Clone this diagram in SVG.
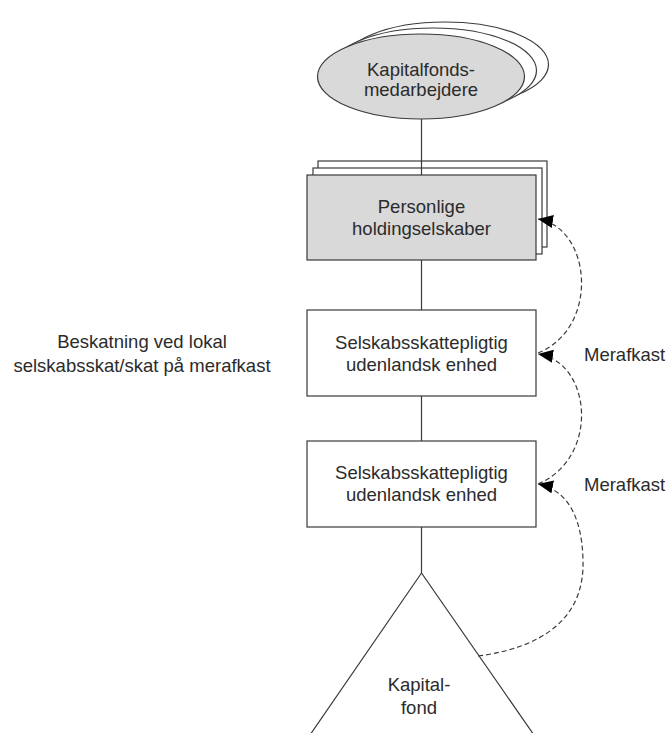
<svg xmlns="http://www.w3.org/2000/svg" width="666" height="733" viewBox="0 0 666 733">
<style>
  text { font-family: "Liberation Sans", Arial, sans-serif; font-size: 18.5px; fill: #2b2b2b; }
  .c { text-anchor: middle; }
  .shape { stroke: #3a3a3a; stroke-width: 1.2; }
  .grey { fill: #d9d9d9; }
  .white { fill: #ffffff; }
  .link { fill: none; stroke: #3a3a3a; stroke-width: 1.2; }
  .flow { fill: none; stroke: #3a3a3a; stroke-width: 1.2; stroke-dasharray: 5 3; marker-end: url(#arrow); }
</style>
<defs>
  <marker id="arrow" markerUnits="userSpaceOnUse" markerWidth="16" markerHeight="14" refX="15" refY="6.5" orient="auto">
    <path d="M0,0 L15,6.5 L0,13 z" fill="#000"/>
  </marker>
</defs>
<rect width="666" height="733" fill="#ffffff"/>

<g id="node-medarbejdere">
  <ellipse class="shape white" cx="445" cy="64.5" rx="103.5" ry="42.5"/>
  <ellipse class="shape white" cx="433" cy="70.5" rx="103.5" ry="42.5"/>
  <ellipse class="shape grey" cx="421" cy="76.5" rx="103.5" ry="42.5"/>
  <text class="c" x="421" y="76">Kapitalfonds-</text>
  <text class="c" x="421" y="95.5">medarbejdere</text>
</g>

<g id="node-holding">
  <rect class="shape white" x="318" y="161" width="229" height="86"/>
  <rect class="shape white" x="313" y="168" width="229" height="86"/>
  <rect class="shape grey" x="307" y="175" width="229" height="85"/>
  <text class="c" x="421.5" y="213">Personlige</text>
  <text class="c" x="421.5" y="235">holdingselskaber</text>
</g>

<g id="node-enhed1">
  <rect class="shape white" x="307" y="310" width="229" height="86"/>
  <text class="c" x="421.5" y="349">Selskabsskattepligtig</text>
  <text class="c" x="421.5" y="371">udenlandsk enhed</text>
</g>

<g id="node-enhed2">
  <rect class="shape white" x="307" y="441" width="229" height="86"/>
  <text class="c" x="421.5" y="479">Selskabsskattepligtig</text>
  <text class="c" x="421.5" y="501">udenlandsk enhed</text>
</g>

<g id="node-kapitalfond">
  <polygon class="shape white" points="421.5,573 301,748 543,748"/>
  <text class="c" x="419" y="691">Kapital-</text>
  <text class="c" x="419" y="714">fond</text>
</g>

<g id="label-beskatning">
  <text class="c" x="142" y="348">Beskatning ved lokal</text>
  <text class="c" x="142" y="372">selskabsskat/skat på merafkast</text>
</g>

<g id="connectors">
  <line class="link" x1="421.5" y1="119" x2="421.5" y2="175"/>
  <line class="link" x1="421.5" y1="260" x2="421.5" y2="310"/>
  <line class="link" x1="421.5" y1="396" x2="421.5" y2="441"/>
  <line class="link" x1="421.5" y1="527" x2="421.5" y2="573"/>
  <path class="flow" d="M538,353 C600,328 592,228 538,219"/>
  <path class="flow" d="M538,484 C600,458 592,362 538,354"/>
  <path class="flow" d="M478,656 C540,648 585,620 583,560 C582,518 568,490 538,484"/>
  <text x="584" y="361">Merafkast</text>
  <text x="584" y="491">Merafkast</text>
</g>
</svg>
